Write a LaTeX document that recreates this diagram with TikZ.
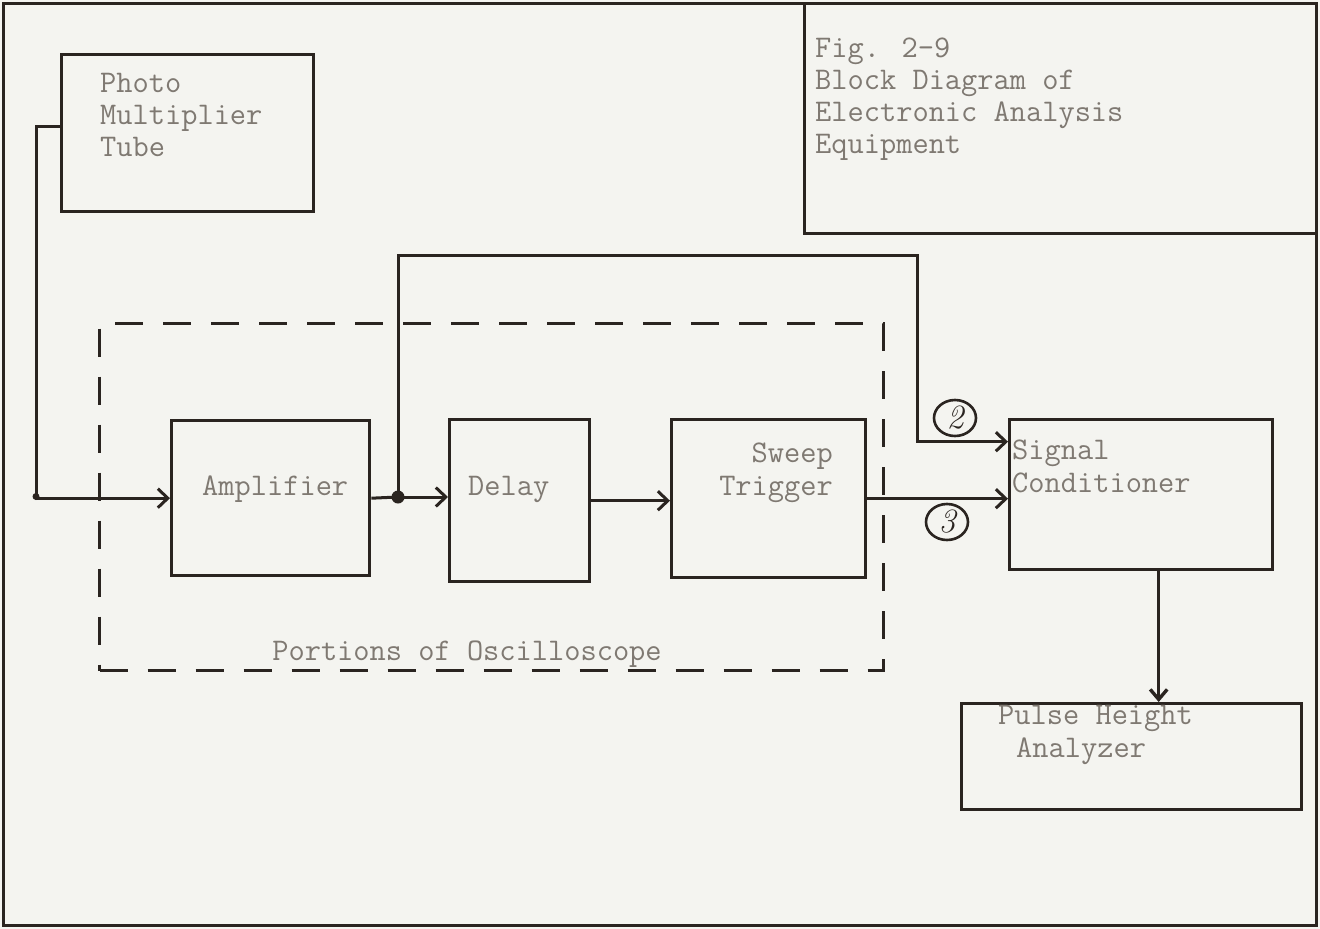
\documentclass[tikz,border=0pt]{standalone}
\usepackage{fontspec}
\usetikzlibrary{arrows.meta,shapes.geometric}
\definecolor{ink}{HTML}{2A2420}
\definecolor{type}{HTML}{7F7972}
\definecolor{paper}{HTML}{F4F4F0}
\begin{document}
\begin{tikzpicture}[x=1pt,y=-1pt,
  box/.style={draw=ink,line width=3.4pt,rectangle,inner sep=0pt,anchor=north west},
  dashbox/.style={draw=ink,line width=3.4pt,rectangle,inner sep=0pt,anchor=north west,dash pattern=on 28pt off 20pt},
  wire/.style={draw=ink,line width=3pt},
  tip/.style={-{Straight Barb[length=10pt,width=19pt,line width=3pt]}},
  lbl/.style={text=type,font=\fontsize{31.5}{32}\selectfont\ttfamily,inner sep=0pt,anchor=base west},
  circ/.style={draw=ink,line width=2.6pt,ellipse,minimum width=42pt,minimum height=36pt,inner sep=0pt,text=ink,font=\fontsize{34}{34}\selectfont\itshape},
  dot/.style={circle,fill=ink,inner sep=0pt,minimum size=#1}]
\useasboundingbox (0,0) rectangle (1320,929);
\fill[paper] (0,0) rectangle (1320,929);
% outer frame and caption box
\draw[ink,line width=3pt] (3,3) rectangle (1316,925);
\draw[ink,line width=3pt] (804,3) |- (1316,233);
% boxes
\node[box,minimum width=252pt,minimum height=157pt] (pmt) at (60,53) {};
\node[box,minimum width=198pt,minimum height=155pt] (amp) at (170,419) {};
\node[box,minimum width=140pt,minimum height=162pt] (delay) at (448,418) {};
\node[box,minimum width=194pt,minimum height=158pt] (sweep) at (670,418) {};
\node[box,minimum width=263pt,minimum height=150pt] (sc) at (1008,418) {};
\node[box,minimum width=340pt,minimum height=106pt] (pha) at (960,702) {};
\node[dashbox,minimum width=784pt,minimum height=347pt] (osc) at (98,322) {};
% texts
\node[lbl] (t1) at (100,92) {Photo};
\node[lbl] (t2) at (100,124) {Multiplier};
\node[lbl] (t3) at (100,156) {Tube};
\node[lbl] (f1) at (815,57) {Fig. 2-9};
\node[lbl] (f2) at (815,89) {Block Diagram of};
\node[lbl] (f3) at (815,121) {Electronic Analysis};
\node[lbl] (f4) at (815,153) {Equipment};
\node[lbl] (ta) at (202,495) {Amplifier};
\node[lbl] (td) at (468,495) {Delay};
\node[lbl,anchor=base east] (ts1) at (833,462) {Sweep};
\node[lbl,anchor=base east] (ts2) at (833,495) {Trigger};
\node[lbl] (tc1) at (1012,459) {Signal};
\node[lbl] (tc2) at (1012,492) {Conditioner};
\node[lbl] (tp1) at (998,724) {Pulse Height};
\node[lbl] (tp2) at (1016,757) {Analyzer};
\node[lbl,anchor=base] (to) at (467,660) {Portions of Oscilloscope};
\node[circ] (n2) at (955,418) {2};
\node[circ] (n3) at (947,522) {3};
% connectors
\coordinate (j) at (398,497);
\coordinate (loopTR) at (917,255);
\draw[wire,tip] ([yshift=6.5pt]pmt.west) -- ++(-24,0) |- (amp.west);
\node[dot=7pt] (cornerdot) at (36,496.5) {};
\draw[wire] (amp.east) -- (j);
\draw[wire,tip] (j) -- (j -| delay.west);
\node[dot=13pt] (jdot) at (j) {};
\draw[wire,tip] (j) |- (loopTR) |- ([yshift=53pt]sc.west);
\draw[wire,tip] (delay.east) -- (delay.east -| sweep.west);
\draw[wire,tip] (sweep.east) -- (sweep.east -| sc.west);
\draw[wire,-{Straight Barb[length=10pt,width=17pt,line width=3.4pt]}] ([xshift=17.5pt]sc.south) -- ([xshift=17.5pt]sc.south |- pha.north);
\end{tikzpicture}
\end{document}
